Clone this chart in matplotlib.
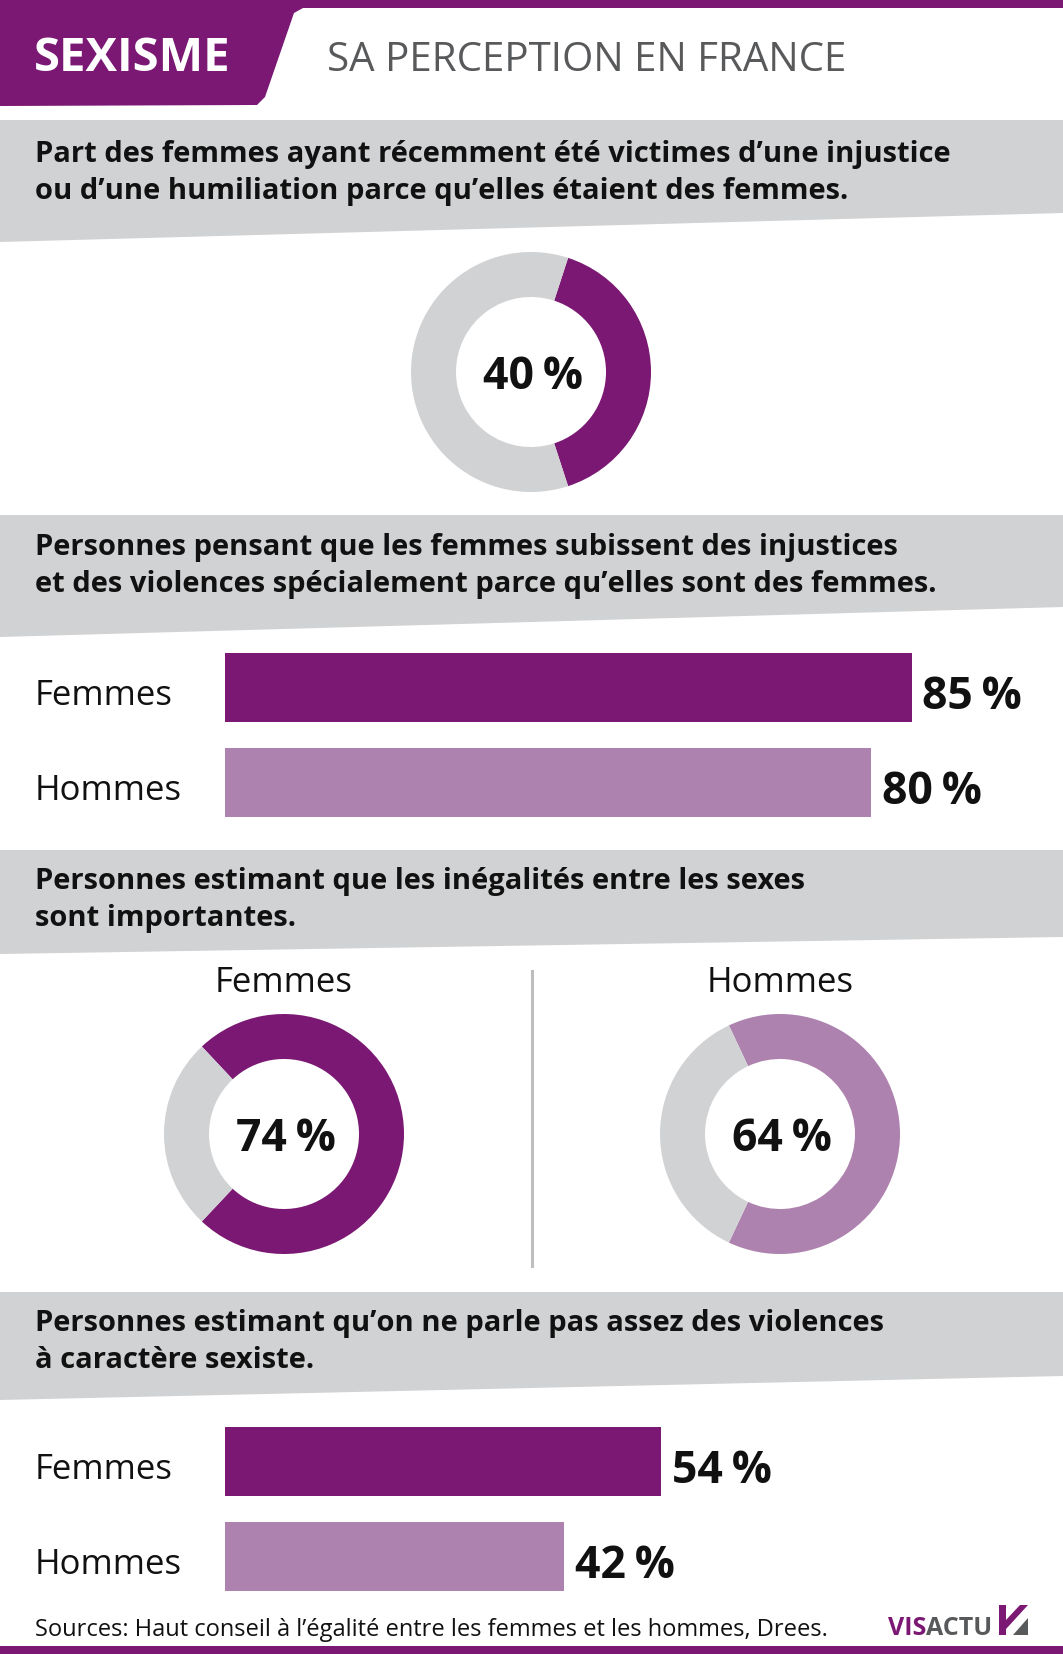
import matplotlib.pyplot as plt
from matplotlib.patches import Polygon, Rectangle
from matplotlib import transforms

W, H = 1063, 1654
PURPLE = '#7a1873'
LILAC = '#ad82ae'
GREY = '#d1d2d4'
DARK = '#58595b'

# --- data ---
title = 'SEXISME'
subtitle = 'SA PERCEPTION EN FRANCE'
headings = [
    ['Part des femmes ayant récemment été victimes d’une injustice',
     'ou d’une humiliation parce qu’elles étaient des femmes.'],
    ['Personnes pensant que les femmes subissent des injustices',
     'et des violences spécialement parce qu’elles sont des femmes.'],
    ['Personnes estimant que les inégalités entre les sexes',
     'sont importantes.'],
    ['Personnes estimant qu’on ne parle pas assez des violences',
     'à caractère sexiste.'],
]
victimes = 40
injustices_labels = ['Femmes', 'Hommes']
injustices_values = [85, 80]
inegalites_labels = ['Femmes', 'Hommes']
inegalites_values = [74, 64]
violences_labels = ['Femmes', 'Hommes']
violences_values = [54, 42]
source = 'Sources: Haut conseil à l’égalité entre les femmes et les hommes, Drees.'

plt.rcParams['font.family'] = ['Open Sans', 'DejaVu Sans']

fig = plt.figure(figsize=(W / 100, H / 100), dpi=100)
bg = fig.add_axes([0, 0, 1, 1])
bg.set_xlim(0, W)
bg.set_ylim(H, 0)
bg.axis('off')


def box(x, y, w, h):
    return [x / W, 1 - (y + h) / H, w / W, h / H]


# header
bg.add_patch(Polygon([(0, 0), (W, 0), (W, 8), (303, 8), (294, 13), (265, 97),
                      (257, 105), (0, 106)], closed=True, color=PURPLE, lw=0))
bg.text(34, 71, title, color='white', fontsize=34, weight='bold', va='baseline')
bg.text(327, 71, subtitle, color=DARK, fontsize=29, va='baseline',
        family=['Liberation Sans Narrow', 'Open Sans'])

# grey bands (top, bottom left, bottom right) + heading baselines
bands = [(120, 242, 213), (515, 637, 607), (850, 954, 937), (1292, 1400, 1376)]
base = [(162, 199), (555, 592), (889, 926), (1331, 1368)]
for (t, bl, br), (b1, b2), lines in zip(bands, base, headings):
    bg.add_patch(Polygon([(0, t), (W, t), (W, br), (0, bl)], closed=True, color=GREY, lw=0))
    bg.text(35, b1, lines[0], fontsize=21, weight='bold', color='#111111', va='baseline')
    bg.text(35, b2, lines[1], fontsize=21, weight='bold', color='#111111', va='baseline')


def donut(cx, cy, value, color):
    r = 120
    a = fig.add_axes(box(cx - r, cy - r, 2 * r, 2 * r))
    a.pie([value, 100 - value], colors=[color, GREY], startangle=value * 1.8,
          counterclock=False, radius=1, wedgeprops=dict(width=0.375, linewidth=0))
    a.set_xlim(-1, 1)
    a.set_ylim(-1, 1)
    a.set_aspect('equal')
    a.axis('off')
    a.text(0.02, 0, f'{value}\u2009%', ha='center', va='center_baseline',
           fontsize=32, weight='bold', color='#111111')


def bars(top, labels, values):
    a = fig.add_axes(box(225, top, 808, 190))
    a.barh(range(len(values)), values, height=0.72, color=[PURPLE, LILAC], lw=0)
    a.set_xlim(0, 100)
    a.set_ylim(1.5, -0.5)
    a.axis('off')
    tr = transforms.blended_transform_factory(fig.transFigure, a.transData)
    for i, (lab, v) in enumerate(zip(labels, values)):
        a.text(v + 1.3, i + 0.05, f'{v}\u2009%', va='center_baseline', ha='left',
               fontsize=32, weight='bold', color='#111111')
        a.text(35 / W, i + 0.05, lab, transform=tr, va='center_baseline', ha='left',
               fontsize=25, color='#111111')


donut(531, 372, victimes, PURPLE)
bars(640, injustices_labels, injustices_values)

# two donuts + divider
for cx, lab, v, c in zip([284, 780], inegalites_labels, inegalites_values, [PURPLE, LILAC]):
    bg.text(cx, 992, lab, ha='center', va='baseline', fontsize=25, color='#111111')
    donut(cx, 1134, v, c)
bg.plot([532, 532], [971, 1266], color='#bcbec0', lw=2.2)

bars(1414, violences_labels, violences_values)

# footer
bg.text(35, 1636, source, fontsize=17, color='#111111', va='baseline')
lg = bg.text(888, 1635, 'VIS', fontsize=18, weight='bold', color=PURPLE, va='baseline',
             family=['Liberation Sans Narrow', 'Open Sans'])
bg.annotate('ACTU', xycoords=lg, xy=(1, 0), va='bottom', fontsize=18, weight='bold',
            color=DARK, family=['Liberation Sans Narrow', 'Open Sans'])
bg.add_patch(Polygon([(999, 1605), (1006, 1605), (1006, 1620), (1020, 1605), (1028, 1605),
                      (1006, 1629), (1006, 1635), (999, 1635)], closed=True, color=PURPLE, lw=0))
bg.add_patch(Polygon([(1013, 1635), (1028, 1618), (1028, 1635)], closed=True, color=DARK, lw=0))
bg.add_patch(Rectangle((0, 1646), W, 8, color=PURPLE, lw=0))

fig.savefig('out.png', dpi=100)
